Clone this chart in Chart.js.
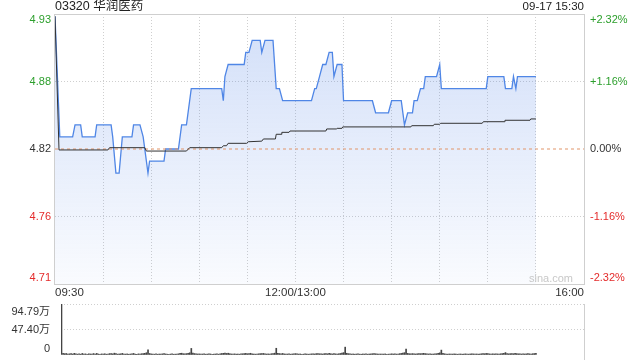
<!DOCTYPE html>
<html>
<head>
<meta charset="utf-8">
<script src="https://cdn.jsdelivr.net/npm/chart.js@4.4.0/dist/chart.umd.min.js"></script>
<style>
  html, body { margin: 0; padding: 0; background: #fff; }
  #wrap { position: relative; width: 640px; height: 360px; overflow: hidden; }
  #priceCanvas { position: absolute; left: 0; top: 0; }
  #volCanvas { position: absolute; left: 0; top: 290px; }
</style>
</head>
<body>
<div id="wrap">
  <canvas id="priceCanvas" width="640" height="300"></canvas>
  <canvas id="volCanvas" width="640" height="70"></canvas>
</div>
<script>
// header
var stockName = '03320 华润医药';
var quoteTime = '09-17 15:30';

// axes
var prevClose = 4.82;
var pctLevels = [2.32, 1.16, 0, -1.16, -2.32];
var priceLabels = ['4.93', '4.88', '4.82', '4.76', '4.71'];
var pctLabels = ['+2.32%', '+1.16%', '0.00%', '-1.16%', '-2.32%'];
var timeLabels = ['09:30', '12:00/13:00', '16:00'];
var timeLabelMinutes = [0, 150, 330];
var volumeLabels = ['94.79万', '47.40万', '0'];
var volumeLevels = [94.79, 47.395, 0];

// price line (minutes after 09:30, lunch removed)
var priceMinutes = [0, 3, 11, 12.5, 16, 17, 25, 26, 35, 36, 38, 40, 42, 48, 49, 53, 55, 58, 59,
  68, 69, 77, 79, 82, 85, 104, 105, 106, 108, 118, 119, 121, 123, 128, 129, 131, 136, 138,
  140, 142, 160, 162, 163, 165, 167, 169, 171, 173, 174, 176, 179, 180, 198, 200, 208, 210,
  216, 218, 220, 223, 224, 226, 228, 230, 231, 238, 240, 241, 269, 270, 280, 281, 285, 286,
  287.5, 288.5, 300];
var priceValues = [4.93, 4.83, 4.83, 4.84, 4.84, 4.83, 4.83, 4.84, 4.84, 4.83, 4.80, 4.80, 4.83, 4.83, 4.84, 4.84, 4.83, 4.80, 4.81,
  4.81, 4.82, 4.82, 4.84, 4.84, 4.87, 4.87, 4.86, 4.88, 4.89, 4.89, 4.90, 4.90, 4.91, 4.91, 4.90, 4.91, 4.91, 4.87,
  4.87, 4.86, 4.86, 4.87, 4.87, 4.88, 4.89, 4.89, 4.90, 4.90, 4.88, 4.89, 4.89, 4.86, 4.86, 4.85, 4.85, 4.86,
  4.86, 4.84, 4.85, 4.85, 4.86, 4.86, 4.87, 4.87, 4.88, 4.88, 4.89, 4.87, 4.87, 4.88, 4.88, 4.87, 4.87, 4.88,
  4.87, 4.88, 4.88];

// average price line
var avgMinutes = [0, 2.5, 33, 34, 56, 57, 82, 84, 104, 105, 107, 108, 119.5, 120.5, 129, 130, 137.5, 138,
  141, 141.5, 146, 146.6, 169, 169.5, 175.5, 176, 179, 179.5, 222, 222.5, 236, 236.6, 240, 240.6,
  266.5, 267.2, 280.2, 280.7, 296.3, 296.8, 300];
var avgValues = [4.93, 4.8192, 4.8192, 4.8211, 4.8211, 4.8183, 4.8183, 4.8211, 4.8211, 4.8227, 4.8227, 4.8247, 4.8247, 4.826, 4.8265, 4.8283, 4.8283, 4.8322,
  4.8322, 4.8338, 4.8338, 4.8349, 4.8349, 4.8366, 4.8366, 4.8371, 4.8371, 4.8383, 4.8383, 4.8393, 4.8393, 4.8405, 4.8405, 4.8413,
  4.8413, 4.8426, 4.8426, 4.8438, 4.8438, 4.8449, 4.8449];

// volume per minute (万), index = minute
var volumeValues = [
  0, 0, 0, 0, 94.79, 3.2, 2.5, 2.8, 1.9, 2.2,
  2.6, 1.8, 3.1, 2.0, 1.6, 2.4, 1.5, 2.9, 1.7, 2.1,
  1.4, 2.2, 1.9, 1.6, 2.7, 1.5, 3.0, 1.8, 1.3, 2.0,
  1.7, 2.3, 1.5, 1.9, 2.6, 2.8, 2.1, 3.4, 2.5, 1.6,
  1.9, 2.2, 3.0, 1.5, 1.7, 2.0, 1.4, 1.8, 2.2, 2.9,
  1.6, 1.3, 2.1, 1.8, 2.4, 2.6, 3.1, 4.2, 9.8, 2.8,
  2.0, 1.7, 1.5, 2.3, 1.4, 1.8, 1.6, 2.1, 2.5, 1.9,
  1.5, 1.3, 1.7, 2.0, 1.4, 1.6, 1.8, 2.2, 2.9, 3.3,
  2.4, 2.1, 2.6, 3.0, 4.1, 12.2, 3.5, 2.7, 2.2, 1.9,
  2.0, 1.6, 1.8, 2.3, 1.5, 1.7, 2.1, 1.9, 1.4, 1.6,
  1.8, 2.0, 1.5, 2.2, 2.8, 3.1, 3.6, 2.9, 3.3, 2.4,
  1.9, 1.7, 2.1, 1.6, 1.8, 1.5, 2.0, 2.3, 2.6, 3.0,
  2.4, 2.8, 3.2, 2.1, 1.8, 1.6, 1.9, 2.2, 2.5, 2.7,
  2.9, 2.3, 1.8, 2.0, 1.7, 2.4, 2.6, 3.4, 12.5, 3.1,
  2.7, 2.2, 2.9, 2.0, 1.6, 1.8, 2.1, 1.5, 1.9, 2.3,
  2.6, 2.0, 1.7, 1.9, 1.4, 1.6, 2.2, 1.8, 1.5, 1.7,
  2.1, 2.4, 1.9, 2.6, 2.8, 2.3, 2.0, 1.8, 2.5, 2.7,
  2.2, 2.9, 2.4, 1.9, 2.6, 2.1, 1.8, 2.3, 2.8, 3.5,
  4.4, 14.6, 3.2, 2.5, 2.0, 1.7, 1.9, 1.5, 1.8, 2.1,
  1.6, 1.4, 1.9, 1.7, 2.2, 1.5, 1.8, 2.0, 2.4, 2.7,
  2.3, 1.9, 1.6, 1.8, 1.5, 1.7, 2.0, 1.4, 1.6, 1.9,
  2.2, 1.8, 2.0, 1.7, 1.9, 2.5, 2.9, 3.6, 4.3, 11.2,
  3.0, 2.4, 2.1, 2.6, 2.2, 1.9, 2.3, 2.7, 2.5, 2.8,
  3.1, 2.6, 2.2, 1.9, 2.0, 1.7, 1.8, 2.1, 2.4, 3.2,
  4.0, 9.1, 2.9, 2.3, 1.8, 1.6, 1.9, 1.5, 1.7, 2.0,
  1.8, 1.4, 1.6, 1.9, 1.5, 1.7, 2.1, 1.8, 1.6, 1.9,
  2.2, 2.0, 1.7, 1.9, 1.6, 1.8, 2.3, 2.6, 2.4, 2.9,
  2.5, 2.1, 1.8, 2.2, 1.9, 2.4, 2.0, 1.7, 2.3, 2.6,
  3.0, 4.5, 2.7, 2.2, 2.5, 2.8, 2.4, 2.9, 2.6, 2.2,
  2.0, 1.8, 2.3, 1.9, 2.1, 2.5, 2.2, 1.8, 2.4, 2.7,
  3.1
];

var FONT = "'Liberation Sans', Arial, 'Noto Sans CJK SC', sans-serif";
var GREEN = '#2c9f2c';
var RED = '#e42b2b';
var GRID = '#cfcfcf';

var toPoints = function (xs, ys) {
  return xs.map(function (x, i) { return { x: x, y: ys[i] }; });
};
var priceLevels = pctLevels.map(function (p) { return prevClose * (1 + p / 100); });

// frame round the plot area, under the lines
var boxPlugin = {
  id: 'boxPlugin',
  beforeDatasetsDraw: function (chart) {
    var a = chart.chartArea, ctx = chart.ctx;
    ctx.save();
    ctx.strokeStyle = GRID;
    ctx.lineWidth = 1;
    ctx.strokeRect(Math.round(a.left) - 0.5, Math.round(a.top) + 0.5,
      Math.round(a.right - a.left) + 1, Math.round(a.bottom - a.top));
    ctx.restore();
  }
};

var priceTextPlugin = {
  id: 'priceText',
  afterDraw: function (chart) {
    var ctx = chart.ctx, a = chart.chartArea, ys = chart.scales.y, xs = chart.scales.x;
    ctx.save();
    ctx.textBaseline = 'middle';

    ctx.font = '12.5px ' + FONT;
    ctx.fillStyle = '#222';
    ctx.textAlign = 'left';
    ctx.fillText(stockName, a.left, 7);
    ctx.font = '11.5px ' + FONT;
    ctx.textAlign = 'right';
    ctx.fillText(quoteTime, a.right, 7);

    ctx.font = '11px ' + FONT;
    priceLevels.forEach(function (v, i) {
      var y = ys.getPixelForValue(v);
      if (i === 0) y += 6;
      if (i === priceLevels.length - 1) y -= 6;
      ctx.fillStyle = pctLevels[i] > 0 ? GREEN : (pctLevels[i] < 0 ? RED : '#333');
      ctx.textAlign = 'right';
      ctx.fillText(priceLabels[i], a.left - 4, y);
      ctx.textAlign = 'left';
      ctx.fillText(pctLabels[i], a.right + 6, y);
    });

    ctx.fillStyle = '#333';
    ctx.font = '11.5px ' + FONT;
    timeLabels.forEach(function (t, i) {
      var x = xs.getPixelForValue(timeLabelMinutes[i]);
      ctx.textAlign = i === 0 ? 'left' : (i === timeLabels.length - 1 ? 'right' : 'center');
      ctx.fillText(t, x, a.bottom + 9);
    });

    ctx.fillStyle = '#c8c8c8';
    ctx.font = '11px ' + FONT;
    ctx.textAlign = 'right';
    ctx.fillText('sina.com', a.right - 11, a.bottom - 5);
    ctx.restore();
  }
};

var volTextPlugin = {
  id: 'volText',
  afterDraw: function (chart) {
    var ctx = chart.ctx, a = chart.chartArea, ys = chart.scales.y;
    ctx.save();
    ctx.strokeStyle = GRID;
    ctx.lineWidth = 1;
    ctx.beginPath();
    ctx.moveTo(Math.round(a.right) + 0.5, a.top);
    ctx.lineTo(Math.round(a.right) + 0.5, chart.height);
    ctx.stroke();

    ctx.font = '11px ' + FONT;
    ctx.fillStyle = '#333';
    ctx.textAlign = 'right';
    ctx.textBaseline = 'middle';
    volumeLevels.forEach(function (v, i) {
      var y = ys.getPixelForValue(v);
      if (i === 0) y += 8;
      if (i === volumeLevels.length - 1) y -= 6;
      ctx.fillText(volumeLabels[i], 50, y);
    });
    ctx.restore();
  }
};

var priceChart = new Chart(document.getElementById('priceCanvas').getContext('2d'), {
  type: 'line',
  data: {
    datasets: [{
      label: 'price',
      data: toPoints(priceMinutes, priceValues),
      borderColor: '#4f86e6',
      borderWidth: 1.3,
      pointRadius: 0,
      tension: 0,
      fill: 'start',
      order: 3,
      backgroundColor: function (c) {
        var area = c.chart.chartArea;
        if (!area) return 'rgba(80,130,230,0.15)';
        var g = c.chart.ctx.createLinearGradient(0, area.top, 0, area.bottom);
        g.addColorStop(0, 'rgba(80,130,230,0.26)');
        g.addColorStop(1, 'rgba(80,130,230,0.03)');
        return g;
      }
    }, {
      label: 'prev',
      data: [{ x: 0, y: prevClose }, { x: 330, y: prevClose }],
      borderColor: '#e2956a',
      borderWidth: 1,
      borderDash: [3, 3],
      pointRadius: 0,
      fill: false,
      order: 2
    }, {
      label: 'avg',
      data: toPoints(avgMinutes, avgValues),
      borderColor: '#333',
      borderWidth: 1,
      pointRadius: 0,
      tension: 0,
      fill: false,
      order: 1
    }]
  },
  options: {
    responsive: false,
    animation: false,
    layout: { padding: { left: 55, right: 56, top: 14, bottom: 16 } },
    scales: {
      x: {
        type: 'linear',
        min: 0,
        max: 330,
        ticks: { display: false, stepSize: 30 },
        grid: {
          drawTicks: false,
          color: function (c) {
            return (c.tick && (c.tick.value === 0 || c.tick.value === 330)) ? 'rgba(0,0,0,0)' : GRID;
          }
        },
        border: { display: false, dash: [1, 2] },
        afterFit: function (s) { s.height = 0; }
      },
      y: {
        type: 'linear',
        min: priceLevels[priceLevels.length - 1],
        max: priceLevels[0],
        afterBuildTicks: function (s) {
          s.ticks = priceLevels.map(function (v) { return { value: v }; });
        },
        ticks: { display: false },
        grid: {
          drawTicks: false,
          color: function (c) {
            var i = c.index;
            return (i === 0 || i === 2 || i === 4) ? 'rgba(0,0,0,0)' : GRID;
          }
        },
        border: { display: false, dash: [1, 2] },
        afterFit: function (s) { s.width = 0; }
      }
    },
    plugins: { legend: { display: false }, tooltip: { enabled: false } }
  },
  plugins: [boxPlugin, priceTextPlugin]
});

var volChart = new Chart(document.getElementById('volCanvas').getContext('2d'), {
  type: 'bar',
  data: {
    datasets: [{
      label: 'volume',
      data: volumeValues.map(function (v, i) { return { x: i, y: v }; }),
      backgroundColor: '#444',
      barThickness: 1
    }]
  },
  options: {
    responsive: false,
    animation: false,
    layout: { padding: { left: 61, right: 56, top: 14, bottom: 5 } },
    scales: {
      x: {
        type: 'linear',
        offset: false,
        min: 3.7,
        max: 330,
        ticks: { display: false },
        grid: { display: false },
        border: { display: false },
        afterFit: function (s) { s.height = 0; }
      },
      y: {
        type: 'linear',
        min: 0,
        max: volumeLevels[0],
        afterBuildTicks: function (s) {
          s.ticks = volumeLevels.map(function (v) { return { value: v }; });
        },
        ticks: { display: false },
        grid: {
          drawTicks: false,
          color: function (c) { return c.index === 2 ? 'rgba(0,0,0,0)' : GRID; }
        },
        border: { display: false, dash: [1, 2] },
        afterFit: function (s) { s.width = 0; }
      }
    },
    plugins: { legend: { display: false }, tooltip: { enabled: false } }
  },
  plugins: [volTextPlugin]
});
</script>
</body>
</html>
